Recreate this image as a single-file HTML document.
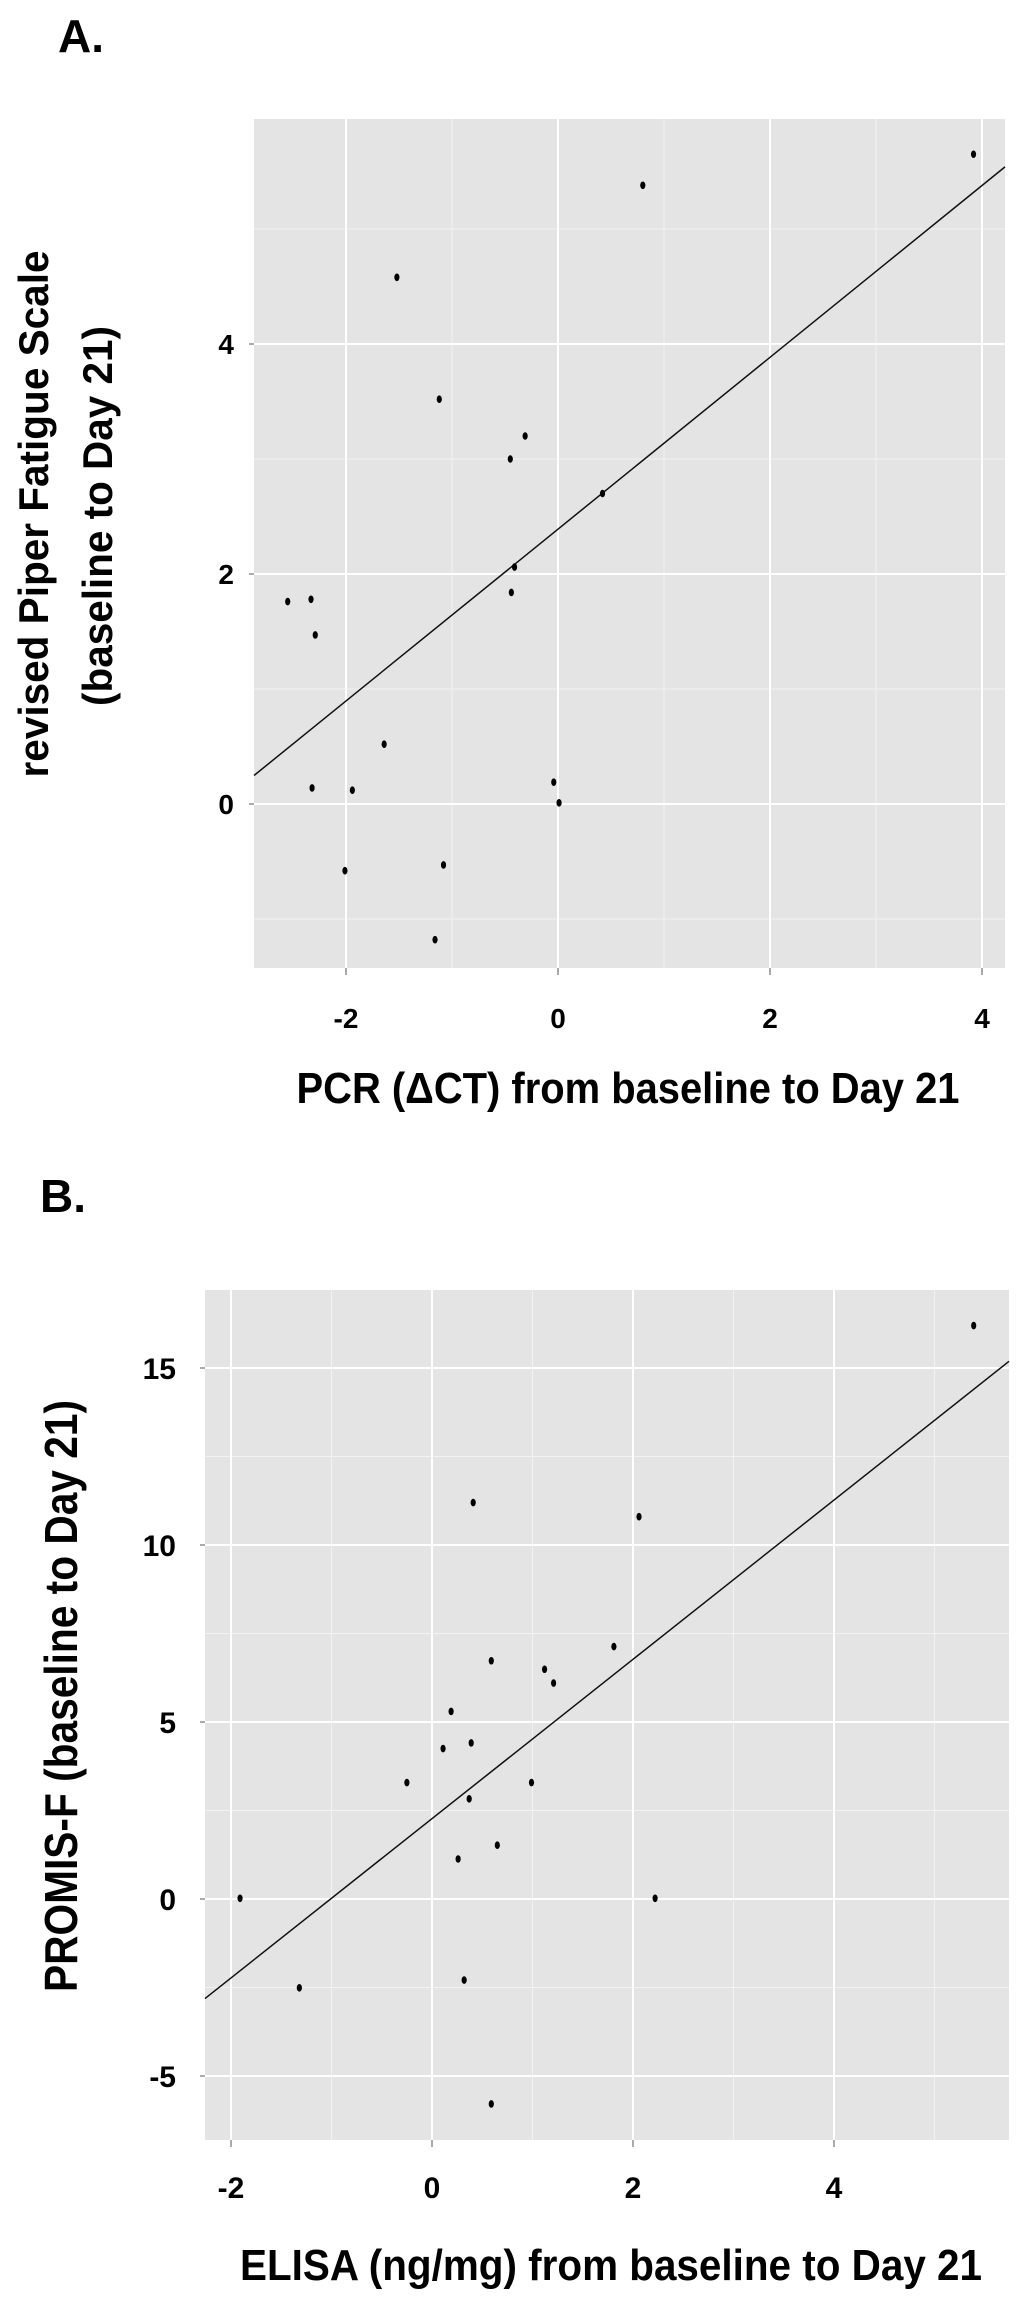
<!DOCTYPE html>
<html><head><meta charset="utf-8"><style>
html,body{margin:0;padding:0;background:#fff;}
svg{display:block;}
text{font-family:"Liberation Sans",sans-serif;fill:#000;}
</style></head><body>
<svg id="fig" width="1024" height="2305" viewBox="0 0 1024 2305">
<text x="58" y="52" font-size="46" font-weight="bold">A.</text>
<text x="40" y="1212" font-size="46" font-weight="bold">B.</text>
<g id="chartA"></g>
<g id="chartB"></g>
<text x="628" y="1103" font-size="44" font-weight="bold" text-anchor="middle" textLength="663" lengthAdjust="spacingAndGlyphs">PCR (ΔCT) from baseline to Day 21</text>
<text transform="translate(48,514) rotate(-90)" font-size="42" font-weight="bold" text-anchor="middle" textLength="527" lengthAdjust="spacingAndGlyphs">revised Piper Fatigue Scale</text>
<text transform="translate(112,516) rotate(-90)" font-size="42" font-weight="bold" text-anchor="middle" textLength="380" lengthAdjust="spacingAndGlyphs">(baseline to Day 21)</text>
<text x="611" y="2280" font-size="44" font-weight="bold" text-anchor="middle" textLength="742" lengthAdjust="spacingAndGlyphs">ELISA (ng/mg) from baseline to Day 21</text>
<text transform="translate(77,1696) rotate(-90)" font-size="46" font-weight="bold" text-anchor="middle" textLength="592" lengthAdjust="spacingAndGlyphs">PROMIS-F (baseline to Day 21)</text>
</svg>
<script>
// Panel A data
const aX = [3.92, 0.80, -1.52, -1.12, -0.31, -0.45, 0.42, -0.41, -0.44, -2.55, -2.33, -2.29, -2.32, -1.94, -1.64, -2.01, -1.08, -1.16, -0.04, 0.01];
const aY = [5.65, 5.38, 4.58, 3.52, 3.20, 3.00, 2.70, 2.06, 1.84, 1.76, 1.78, 1.47, 0.14, 0.12, 0.52, -0.58, -0.53, -1.18, 0.19, 0.01];
const aFit = [2.39, 0.747]; // intercept, slope
const aXTicks = [-2, 0, 2, 4];
const aXMinor = [-1, 1, 3];
const aYTicks = [0, 2, 4];
const aYMinor = [-1, 1, 3, 5];
// Panel B data
const bX = [5.39, 0.41, 2.06, 1.81, 0.59, 1.12, 1.21, 0.19, 0.11, 0.39, -0.25, 0.99, 0.37, 0.65, 0.26, -1.91, 2.22, -1.32, 0.32, 0.59];
const bY = [16.2, 11.2, 10.8, 7.13, 6.73, 6.49, 6.10, 5.30, 4.25, 4.41, 3.29, 3.29, 2.83, 1.52, 1.13, 0.02, 0.02, -2.51, -2.29, -5.79];
const bFit = [2.27, 2.25];
const bXTicks = [-2, 0, 2, 4];
const bXMinor = [-1, 1, 3, 5];
const bYTicks = [-5, 0, 5, 10, 15];
const bYMinor = [-2.5, 2.5, 7.5, 12.5];

const NS = "http://www.w3.org/2000/svg";
function mk(parent, tag, attrs){
  const e = document.createElementNS(NS, tag);
  for (const k in attrs) e.setAttribute(k, attrs[k]);
  parent.appendChild(e);
  return e;
}
function draw(g, cfg, xs, ys, fit, xt, xm, yt, ym, key){
  const sx = v => cfg.x0 + v * cfg.kx;
  const sy = v => cfg.y0 - v * cfg.ky;
  const bg = mk(g, 'rect', {x: cfg.L, y: cfg.T, width: cfg.R - cfg.L, height: cfg.B - cfg.T, fill: '#e4e4e4'});
  
  
  xm.forEach(v => {
    const l = mk(g, 'line', {x1: sx(v), x2: sx(v), y1: cfg.T, y2: cfg.B, stroke: '#f2f2f2', 'stroke-width': 1});
    
    
  });
  ym.forEach(v => {
    const l = mk(g, 'line', {x1: cfg.L, x2: cfg.R, y1: sy(v), y2: sy(v), stroke: '#f2f2f2', 'stroke-width': 1});
    
    
  });
  xt.forEach(v => {
    const l = mk(g, 'line', {x1: sx(v), x2: sx(v), y1: cfg.T, y2: cfg.B, stroke: '#ffffff', 'stroke-width': 2});
    
    
    const t = mk(g, 'line', {x1: sx(v), x2: sx(v), y1: cfg.B, y2: cfg.B + 7, stroke: '#555', 'stroke-width': 1});
    
    
    const tx = mk(g, 'text', {x: sx(v), y: cfg.xLabY, 'font-size': cfg.fs, 'font-weight': 'bold', 'text-anchor': 'middle'});
    tx.textContent = String(v);
    
    
  });
  yt.forEach(v => {
    const l = mk(g, 'line', {x1: cfg.L, x2: cfg.R, y1: sy(v), y2: sy(v), stroke: '#ffffff', 'stroke-width': 2});
    
    
    const t = mk(g, 'line', {x1: cfg.L - 5, x2: cfg.L, y1: sy(v), y2: sy(v), stroke: '#555', 'stroke-width': 1});
    
    
    const tx = mk(g, 'text', {x: cfg.yLabX, y: sy(v) + cfg.fs * 0.36, 'font-size': cfg.fs, 'font-weight': 'bold', 'text-anchor': 'end'});
    tx.textContent = String(v);
    
    
  });
  const xa = (cfg.L - cfg.x0) / cfg.kx, xb = (cfg.R - cfg.x0) / cfg.kx;
  const fl = mk(g, 'line', {x1: sx(xa), y1: sy(fit[0] + fit[1] * xa), x2: sx(xb), y2: sy(fit[0] + fit[1] * xb), stroke: '#111', 'stroke-width': 1.5});
  
  
  xs.forEach((v, i) => {
    const p = mk(g, 'ellipse', {cx: sx(v), cy: sy(ys[i]), rx: 2.6, ry: 3.8, fill: '#000'});
    
    
  });
}
draw(document.getElementById('chartA'),
  {L: 254, R: 1005, T: 119, B: 968, x0: 558, kx: 106, y0: 804, ky: 115, fs: 28, xLabY: 1028, yLabX: 234},
  aX, aY, aFit, aXTicks, aXMinor, aYTicks, aYMinor, 'a');
draw(document.getElementById('chartB'),
  {L: 205, R: 1009, T: 1290, B: 2140, x0: 432, kx: 100.5, y0: 1899, ky: 35.4, fs: 30, xLabY: 2198, yLabX: 176},
  bX, bY, bFit, bXTicks, bXMinor, bYTicks, bYMinor, 'b');
</script>
</body></html>
